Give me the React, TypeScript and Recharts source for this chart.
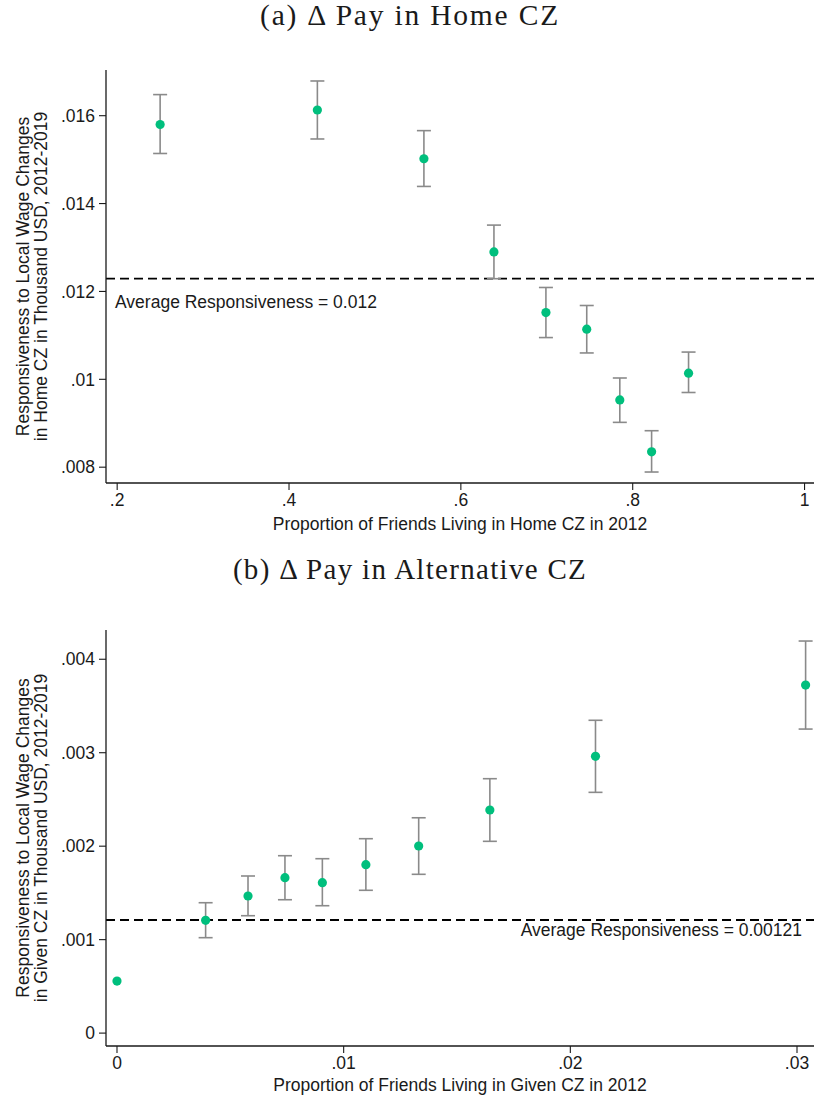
import React from "react";
import {
  ScatterChart,
  Scatter,
  XAxis,
  YAxis,
  ErrorBar,
  ReferenceLine,
  Label,
} from "recharts";

// panel (a): delta pay in home CZ
const homeX = [0.25, 0.433, 0.557, 0.6385, 0.699, 0.7465, 0.785, 0.822, 0.865];
const homeY = [0.0158, 0.01613, 0.01502, 0.0129, 0.01152, 0.01114, 0.00953, 0.00835, 0.01014];
const homeLo = [0.01514, 0.01547, 0.01439, 0.01229, 0.01095, 0.0106, 0.00902, 0.00789, 0.0097];
const homeHi = [0.01648, 0.01679, 0.01566, 0.01351, 0.01209, 0.01168, 0.01003, 0.00883, 0.01062];
const homeAvg = 0.01229;
const homeXTicks = [0.2, 0.4, 0.6, 0.8, 1];
const homeYTicks = [0.008, 0.01, 0.012, 0.014, 0.016];

// panel (b): delta pay in alternative CZ
const altX = [0, 0.00391, 0.00578, 0.00741, 0.00906, 0.01098, 0.01331, 0.01645, 0.02111, 0.03038];
const altY = [0.000557, 0.001207, 0.001467, 0.001663, 0.001609, 0.001802, 0.002002, 0.002387, 0.002961, 0.003724];
const altLo = [null, 0.001021, 0.001256, 0.001427, 0.001363, 0.001528, 0.001699, 0.002052, 0.002576, 0.003253];
const altHi = [null, 0.001395, 0.001681, 0.001898, 0.001866, 0.00208, 0.002304, 0.002722, 0.003347, 0.004195];
const altAvg = 0.00121;
const altXTicks = [0, 0.01, 0.02, 0.03];
const altYTicks = [0, 0.001, 0.002, 0.003, 0.004];

const GREEN = "#00BF7D";
const GREY = "#8a8a8a";
const INK = "#1a1a1a";
const SANS = "'Liberation Sans', Arial, Helvetica, sans-serif";
const SERIF = "'Liberation Serif', 'Times New Roman', serif";

type Pt = { x: number; y: number; err?: [number, number] };

function build(xs: number[], ys: number[], lo: (number | null)[], hi: (number | null)[]) {
  const withCi: Pt[] = [];
  const noCi: Pt[] = [];
  xs.forEach((x, i) => {
    const l = lo[i];
    const h = hi[i];
    if (l == null || h == null) noCi.push({ x, y: ys[i] });
    else withCi.push({ x, y: ys[i], err: [ys[i] - l, h - ys[i]] });
  });
  return { withCi, noCi };
}

const fmt = (v: number) =>
  v === 0 ? "0" : String(+v.toPrecision(6)).replace(/^0\./, ".");

const dot = (p: any) => <circle cx={p.cx} cy={p.cy} r={4.6} fill={GREEN} />;

interface PanelProps {
  top: number;
  height: number;
  xAxisHeight: number;
  xLabelDy: number;
  xDomain: [number, number];
  yDomain: [number, number];
  xTicks: number[];
  yTicks: number[];
  withCi: Pt[];
  noCi: Pt[];
  avg: number;
  avgText: string;
  avgRight: boolean;
  avgDy: number;
  xLabel: string;
  yLabel2: string;
}

function Panel(p: PanelProps) {
  return (
    <div style={{ position: "absolute", left: 0, top: p.top }}>
      <ScatterChart
        width={814}
        height={p.height}
        margin={{ top: 70, right: 0, bottom: 0, left: 0 }}
      >
        <XAxis
          type="number"
          dataKey="x"
          domain={p.xDomain}
          ticks={p.xTicks}
          interval={0}
          allowDataOverflow
          tickFormatter={fmt}
          height={p.xAxisHeight}
          tickSize={7}
          tickMargin={4}
          axisLine={{ stroke: INK, strokeWidth: 1.3 }}
          tickLine={{ stroke: INK, strokeWidth: 1.1 }}
          tick={{ fill: INK, fontSize: 17.5 }}
        >
          <Label
            content={(lp: any) => {
              const vb = lp.viewBox;
              return (
                <text
                  x={vb.x + vb.width / 2}
                  y={vb.y + p.xLabelDy}
                  textAnchor="middle"
                  fontSize={17.5}
                  fill={INK}
                >
                  {p.xLabel}
                </text>
              );
            }}
          />
        </XAxis>
        <YAxis
          type="number"
          dataKey="y"
          domain={p.yDomain}
          ticks={p.yTicks}
          interval={0}
          allowDataOverflow
          tickFormatter={fmt}
          width={106}
          tickSize={7}
          tickMargin={4}
          axisLine={{ stroke: INK, strokeWidth: 1.3 }}
          tickLine={{ stroke: INK, strokeWidth: 1.1 }}
          tick={{ fill: INK, fontSize: 17.5 }}
        >
          <Label
            content={(lp: any) => {
              const vb = lp.viewBox;
              const cy = vb.y + vb.height / 2;
              return (
                <g fontSize={17.5} fill={INK}>
                  <text x={29} y={cy} textAnchor="middle" transform={`rotate(-90, 29, ${cy})`}>
                    Responsiveness to Local Wage Changes
                  </text>
                  <text x={47} y={cy} textAnchor="middle" transform={`rotate(-90, 47, ${cy})`}>
                    {p.yLabel2}
                  </text>
                </g>
              );
            }}
          />
        </YAxis>
        <ReferenceLine
          y={p.avg}
          stroke="#000"
          strokeWidth={1.8}
          strokeDasharray="9 5"
          label={(lp: any) => {
            const vb = lp.viewBox;
            return (
              <text
                x={p.avgRight ? vb.x + vb.width - 12 : vb.x + 9}
                y={vb.y + p.avgDy}
                textAnchor={p.avgRight ? "end" : "start"}
                fontSize={17.5}
                fill={INK}
              >
                {p.avgText}
              </text>
            );
          }}
        />
        <Scatter data={p.withCi} shape={dot} isAnimationActive={false}>
          <ErrorBar
            dataKey="err"
            direction="y"
            width={7}
            stroke={GREY}
            strokeWidth={1.6}
            isAnimationActive={false}
          />
        </Scatter>
        {p.noCi.length > 0 && (
          <Scatter data={p.noCi} shape={dot} isAnimationActive={false} />
        )}
      </ScatterChart>
    </div>
  );
}

export default function App() {
  const home = build(homeX, homeY, homeLo, homeHi);
  const alt = build(altX, altY, altLo, altHi);
  return (
    <div
      style={{
        position: "absolute",
        left: 0,
        top: 0,
        width: 814,
        height: 1101,
        background: "#fff",
        fontFamily: SANS,
      }}
    >
      <svg
        width={814}
        height={1101}
        style={{ position: "absolute", left: 0, top: 0 }}
      >
        <text x={410} y={25} textAnchor="middle" fontFamily={SERIF} fontSize={29.5} letterSpacing={1.8} fill={INK}>
          (a) Δ Pay in Home CZ
        </text>
        <text x={410} y={579} textAnchor="middle" fontFamily={SERIF} fontSize={29} letterSpacing={1.3} fill={INK}>
          (b) Δ Pay in Alternative CZ
        </text>
      </svg>
      <Panel
        top={0}
        height={560}
        xAxisHeight={77}
        xLabelDy={47}
        xDomain={[0.187, 1.011]}
        yDomain={[0.00764, 0.01704]}
        xTicks={homeXTicks}
        yTicks={homeYTicks}
        withCi={home.withCi}
        noCi={home.noCi}
        avg={homeAvg}
        avgText="Average Responsiveness = 0.012"
        avgRight={false}
        avgDy={29}
        xLabel="Proportion of Friends Living in Home CZ in 2012"
        yLabel2="in Home CZ in Thousand USD, 2012-2019"
      />
      <Panel
        top={560}
        height={541}
        xAxisHeight={55}
        xLabelDy={45}
        xDomain={[-0.000485, 0.03075]}
        yDomain={[-0.000138, 0.004313]}
        xTicks={altXTicks}
        yTicks={altYTicks}
        withCi={alt.withCi}
        noCi={alt.noCi}
        avg={altAvg}
        avgText="Average Responsiveness = 0.00121"
        avgRight={true}
        avgDy={15.5}
        xLabel="Proportion of Friends Living in Given CZ in 2012"
        yLabel2="in Given CZ in Thousand USD, 2012-2019"
      />
    </div>
  );
}
